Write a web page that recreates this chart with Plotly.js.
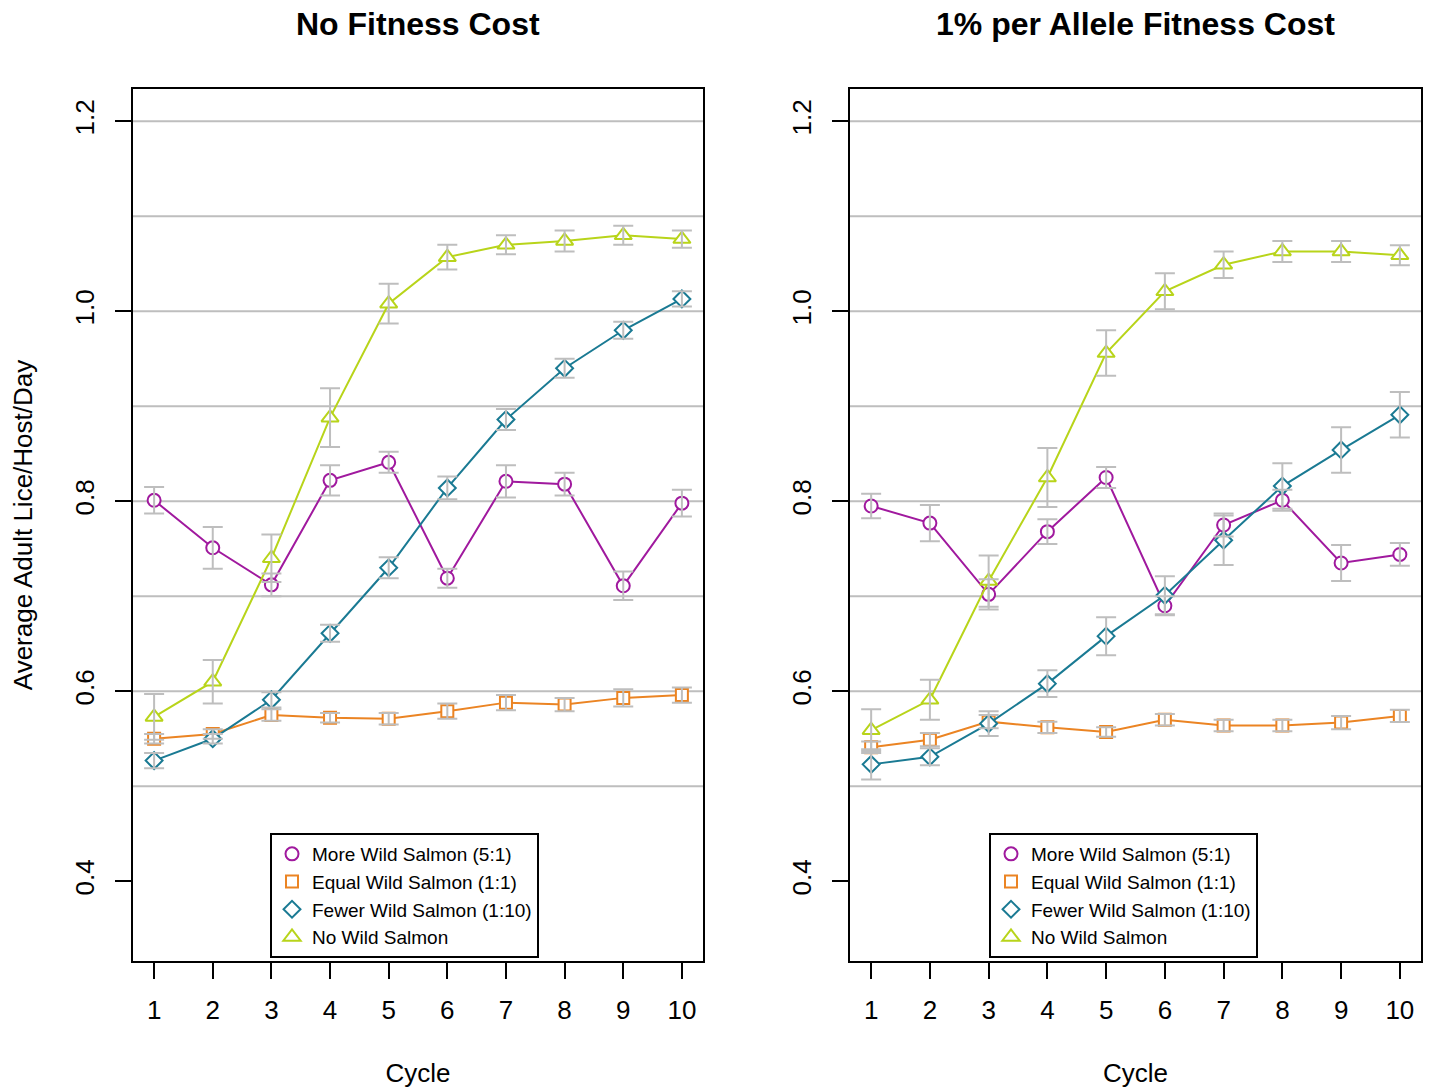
<!DOCTYPE html>
<html>
<head>
<meta charset="utf-8">
<script src="https://cdn.plot.ly/plotly-3.0.1.min.js"></script>
<style>html,body{margin:0;padding:0;background:#fff;}#chart{width:1429px;height:1089px;}</style>
</head>
<body>
<div id="chart"></div>
<script>
// ---- data ----
const cycles = [1, 2, 3, 4, 5, 6, 7, 8, 9, 10];
const seriesNames = ["More Wild Salmon (5:1)", "Equal Wild Salmon (1:1)", "Fewer Wild Salmon (1:10)", "No Wild Salmon"];
const panelTitles = ["No Fitness Cost", "1% per Allele Fitness Cost"];
const yTickVals = [0.4, 0.6, 0.8, 1.0, 1.2];
const yTickText = ["0.4", "0.6", "0.8", "1.0", "1.2"];
const gridVals = [0.5, 0.6, 0.7, 0.8, 0.9, 1.0, 1.1, 1.2];

// No Fitness Cost
const moreNF     = [0.801, 0.751, 0.712, 0.822, 0.841, 0.719, 0.821, 0.818, 0.711, 0.798];
const moreNFerr  = [0.014, 0.022, 0.012, 0.016, 0.011, 0.010, 0.017, 0.012, 0.015, 0.014];
const equalNF    = [0.550, 0.555, 0.575, 0.572, 0.571, 0.579, 0.588, 0.586, 0.593, 0.596];
const equalNFerr = [0.005, 0.005, 0.006, 0.005, 0.006, 0.008, 0.008, 0.007, 0.009, 0.008];
const fewerNF    = [0.527, 0.550, 0.591, 0.661, 0.730, 0.814, 0.886, 0.940, 0.980, 1.013];
const fewerNFerr = [0.008, 0.005, 0.008, 0.009, 0.011, 0.012, 0.011, 0.010, 0.009, 0.008];
const noNF       = [0.573, 0.610, 0.740, 0.888, 1.008, 1.057, 1.070, 1.074, 1.080, 1.076];
const noNFerr    = [0.024, 0.023, 0.025, 0.031, 0.021, 0.013, 0.010, 0.011, 0.010, 0.009];

// 1% per Allele Fitness Cost
const moreFC     = [0.795, 0.777, 0.702, 0.768, 0.825, 0.690, 0.775, 0.801, 0.735, 0.744];
const moreFCerr  = [0.013, 0.019, 0.016, 0.013, 0.011, 0.010, 0.012, 0.011, 0.019, 0.012];
const equalFC    = [0.541, 0.549, 0.568, 0.562, 0.557, 0.570, 0.564, 0.564, 0.567, 0.574];
const equalFCerr = [0.006, 0.007, 0.007, 0.006, 0.005, 0.006, 0.006, 0.006, 0.007, 0.0065];
const fewerFC    = [0.523, 0.531, 0.566, 0.608, 0.658, 0.701, 0.759, 0.816, 0.854, 0.891];
const fewerFCerr = [0.016, 0.009, 0.013, 0.014, 0.020, 0.020, 0.026, 0.024, 0.024, 0.024];
const noFC       = [0.559, 0.591, 0.716, 0.825, 0.956, 1.021, 1.049, 1.063, 1.063, 1.059];
const noFCerr    = [0.022, 0.021, 0.027, 0.031, 0.024, 0.019, 0.014, 0.011, 0.011, 0.0105];

// ---- styles ----
const colors  = ["#A0199E", "#EB8423", "#1A7A93", "#B8D41A"];
const symbols = ["circle", "square", "diamond", "triangle-up"];
const sizes   = [13, 12, 13, 15];
const FONT = "Liberation Sans, Arial, Helvetica, sans-serif";

const panels = [
  {xa: "x", ya: "y", legend: "legend", vals: [moreNF, equalNF, fewerNF, noNF], errs: [moreNFerr, equalNFerr, fewerNFerr, noNFerr]},
  {xa: "x2", ya: "y2", legend: "legend2", vals: [moreFC, equalFC, fewerFC, noFC], errs: [moreFCerr, equalFCerr, fewerFCerr, noFCerr]}
];

const traces = [];
const errTraces = [];
panels.forEach(p => {
  seriesNames.forEach((name, i) => {
    traces.push({
      x: cycles, y: p.vals[i], xaxis: p.xa, yaxis: p.ya, type: "scatter", mode: "lines",
      line: {color: colors[i], width: 2}, showlegend: false, hoverinfo: "skip"
    });
    traces.push({
      x: cycles, y: p.vals[i], xaxis: p.xa, yaxis: p.ya, type: "scatter", mode: "markers",
      name: name, legend: p.legend, showlegend: true,
      marker: {symbol: symbols[i], size: sizes[i], color: "white", line: {color: colors[i], width: 2}}
    });
    errTraces.push({
      x: cycles, y: p.vals[i], xaxis: p.xa, yaxis: p.ya, type: "scatter", mode: "markers",
      marker: {size: 1, opacity: 0}, showlegend: false, hoverinfo: "skip",
      error_y: {type: "data", array: p.errs[i], visible: true, color: "#BEBEBE", thickness: 2, width: 10}
    });
  });
});
const data = traces.concat(errTraces);

const W = 1429, H = 1089;
const dx1 = [133 / W, 703 / W];
const dx2 = [850 / W, 1421 / W];
const dy = [1 - 961 / H, 1 - 89 / H];

function xAxis(domain, anchor) {
  return {
    domain: domain, anchor: anchor, range: [0.64, 10.36],
    tickmode: "array", tickvals: cycles, ticktext: cycles.map(String),
    ticks: "outside", ticklen: 16, tickwidth: 2, tickcolor: "black", ticklabelstandoff: 9,
    showline: true, mirror: true, linecolor: "black", linewidth: 2,
    showgrid: false, zeroline: false,
    tickfont: {family: FONT, size: 26, color: "black"},
    title: {text: "Cycle", font: {family: FONT, size: 26, color: "black"}, standoff: 40}
  };
}
function yAxis(domain, anchor, withTitle) {
  const a = {
    domain: domain, anchor: anchor, range: [0.316, 1.234],
    tickmode: "array", tickvals: yTickVals, ticktext: yTickText, tickangle: -90,
    ticks: "outside", ticklen: 16, tickwidth: 2, tickcolor: "black", ticklabelstandoff: 11,
    showline: true, mirror: true, linecolor: "black", linewidth: 2,
    showgrid: false, zeroline: false,
    tickfont: {family: FONT, size: 26, color: "black"}
  };
  if (withTitle) a.title = {text: "Average Adult Lice/Host/Day", font: {family: FONT, size: 26, color: "black"}, standoff: 29};
  return a;
}

const shapes = [];
["y", "y2"].forEach((yr, k) => {
  gridVals.forEach(g => {
    shapes.push({type: "line", xref: (k === 0 ? "x" : "x2") + " domain", x0: 0, x1: 1, yref: yr, y0: g, y1: g,
      line: {color: "#BEBEBE", width: 2}, layer: "below"});
  });
});

const legendBase = {
  yanchor: "top", xanchor: "left", y: 1 - 833 / H,
  bgcolor: "white", bordercolor: "black", borderwidth: 2,
  font: {family: FONT, size: 19, color: "black"}, tracegroupgap: 0, itemwidth: 30
};

const layout = {
  width: W, height: H,
  margin: {l: 0, r: 0, t: 0, b: 0},
  paper_bgcolor: "white", plot_bgcolor: "white",
  font: {family: FONT, color: "black"},
  showlegend: true,
  xaxis: xAxis(dx1, "y"),
  yaxis: yAxis(dy, "x", true),
  xaxis2: xAxis(dx2, "y2"),
  yaxis2: yAxis(dy, "x2", false),
  legend: Object.assign({}, legendBase, {x: 270 / W}),
  legend2: Object.assign({}, legendBase, {x: 989 / W}),
  shapes: shapes,
  annotations: panelTitles.map((t, k) => ({
    text: t, xref: "paper", yref: "paper",
    x: k === 0 ? (dx1[0] + dx1[1]) / 2 : (dx2[0] + dx2[1]) / 2,
    y: 1 - 24 / H, xanchor: "center", yanchor: "middle", showarrow: false,
    font: {family: FONT, size: 32, color: "black", weight: "bold"}
  }))
};

Plotly.newPlot("chart", data, layout, {staticPlot: true, displayModeBar: false});
</script>
</body>
</html>
